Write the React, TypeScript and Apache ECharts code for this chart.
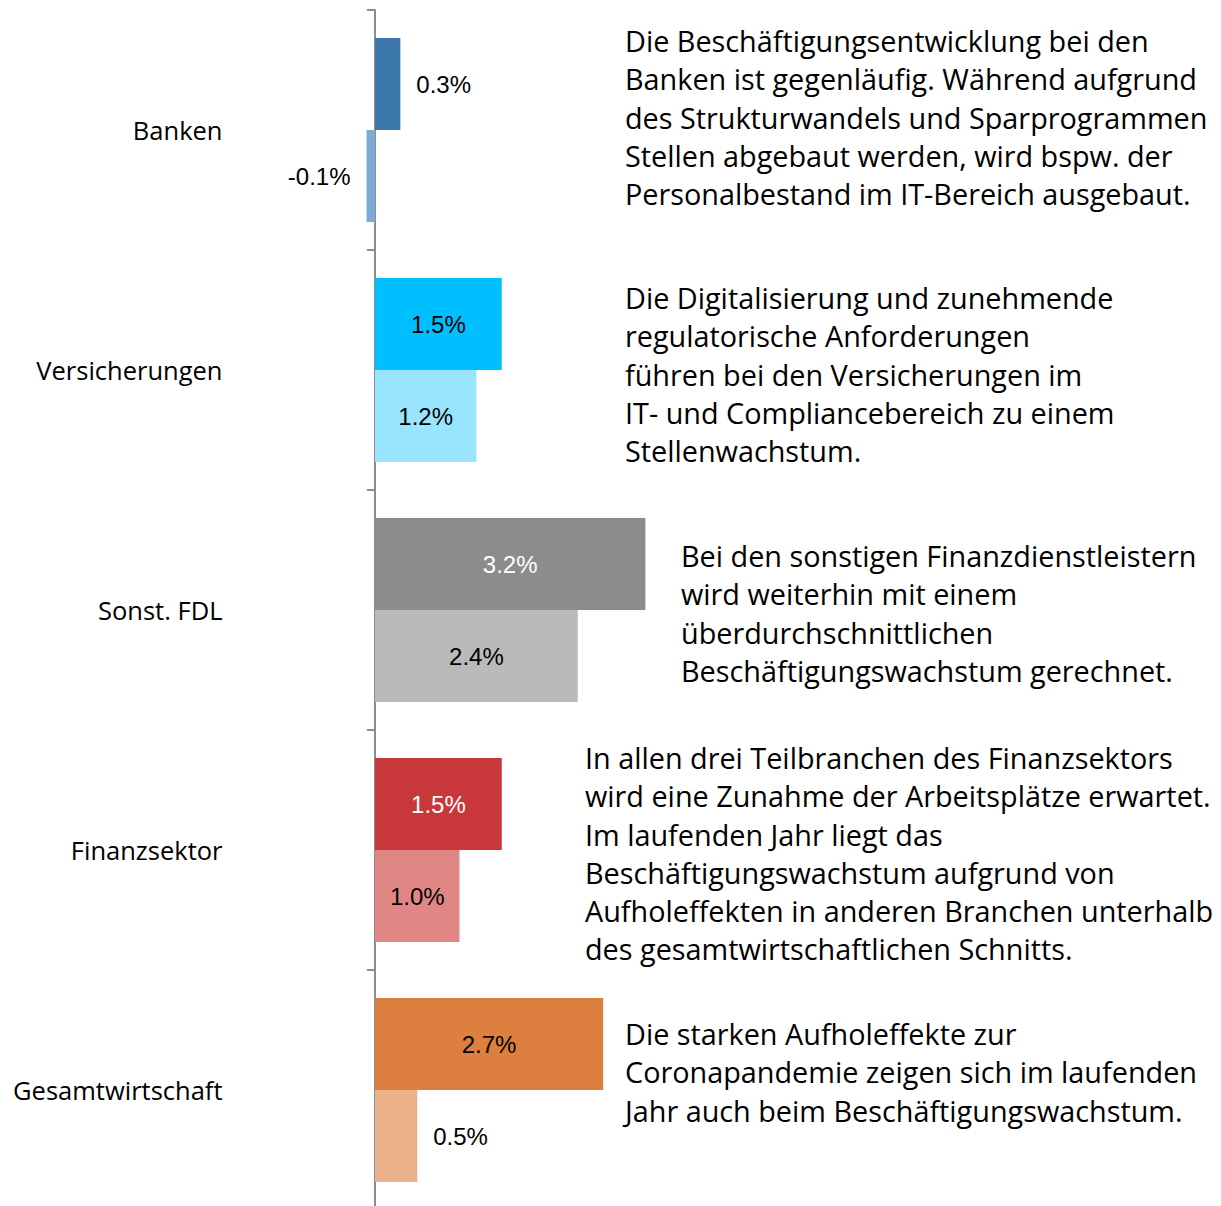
import React, { useEffect, useRef } from "react";
import * as echarts from "echarts";

const categories = ["Banken", "Versicherungen", "Sonst. FDL", "Finanzsektor", "Gesamtwirtschaft"];
const currentYear = [0.3, 1.5, 3.2, 1.5, 2.7];
const previousYear = [-0.1, 1.2, 2.4, 1.0, 0.5];
const darkColors = ["#3B76AB", "#00BFFF", "#8C8C8C", "#C8373A", "#DC7F3F"];
const lightColors = ["#7EAAD6", "#99E4FF", "#BABABA", "#E08786", "#EBB18B"];
const darkLabelColors = ["#000000", "#000000", "#FFFFFF", "#FFFFFF", "#000000"];
const lightLabelColors = ["#000000", "#000000", "#000000", "#000000", "#000000"];

const notes = [
  { x: 625, y: 42, lines: ["Die Beschäftigungsentwicklung bei den", "Banken ist gegenläufig. Während aufgrund", "des Strukturwandels und Sparprogrammen", "Stellen abgebaut werden, wird bspw. der", "Personalbestand im IT-Bereich ausgebaut."] },
  { x: 625, y: 299, lines: ["Die Digitalisierung und zunehmende", "regulatorische Anforderungen", "führen bei den Versicherungen im", "IT- und Compliancebereich zu einem", "Stellenwachstum."] },
  { x: 681, y: 557, lines: ["Bei den sonstigen Finanzdienstleistern", "wird weiterhin mit einem", "überdurchschnittlichen", "Beschäftigungswachstum gerechnet."] },
  { x: 585, y: 759, lines: ["In allen drei Teilbranchen des Finanzsektors", "wird eine Zunahme der Arbeitsplätze erwartet.", "Im laufenden Jahr liegt das", "Beschäftigungswachstum aufgrund von", "Aufholeffekten in anderen Branchen unterhalb", "des gesamtwirtschaftlichen Schnitts."] },
  { x: 625, y: 1035, lines: ["Die starken Aufholeffekte zur", "Coronapandemie zeigen sich im laufenden", "Jahr auch beim Beschäftigungswachstum."] },
];

const FONT = "'Liberation Sans', Arial, sans-serif";
const NOTE_FONT = "'Open Sans', 'Noto Sans', sans-serif";
const LINE_H = 38.3;

function labelFor(v: number, color: string) {
  const small = Math.abs(v) < 0.8;
  return {
    show: true,
    position: small ? (v < 0 ? "left" : "right") : "inside",
    distance: small ? 16 : 5,
    color: small ? "#000000" : color,
    fontSize: 24,
    fontFamily: FONT,
    formatter: (p: any) => p.value.toFixed(1) + "%",
  };
}

export default function App() {
  const ref = useRef<HTMLDivElement>(null);
  useEffect(() => {
    if (!ref.current) return;
    const chart = echarts.init(ref.current, null, { renderer: "svg" });
    const graphics: any[] = [];
    notes.forEach((n) => {
      graphics.push({
        type: "text",
        left: n.x,
        top: n.y - LINE_H / 2 - 1.5,
        style: {
          text: n.lines.join("\n"),
          font: `28.8px ${NOTE_FONT}`,
          fill: "#000000",
          lineHeight: LINE_H,
        },
      });
    });
    chart.setOption({
      animation: false,
      backgroundColor: "#ffffff",
      grid: { left: 290.5, top: 10, width: 845, height: 1200, containLabel: false, outerBoundsMode: "none" },
      xAxis: { type: "value", min: -1, max: 9, show: false, splitLine: { show: false } },
      yAxis: {
        type: "category",
        data: categories,
        inverse: true,
        axisLine: { onZero: true, lineStyle: { color: "#8C8C8C", width: 2 } },
        axisTick: { show: true, length: 8, lineStyle: { color: "#8C8C8C", width: 2 } },
        axisLabel: { margin: 68, fontSize: 25.5, color: "#000000", fontFamily: NOTE_FONT },
      },
      series: [
        {
          name: "Laufendes Jahr",
          type: "bar",
          barWidth: 92,
          barGap: "0%",
          data: currentYear.map((v, i) => ({ value: v, itemStyle: { color: darkColors[i] }, label: labelFor(v, darkLabelColors[i]) })),
        },
        {
          name: "Vorjahr",
          type: "bar",
          barWidth: 92,
          barGap: "0%",
          data: previousYear.map((v, i) => ({ value: v, itemStyle: { color: lightColors[i] }, label: labelFor(v, lightLabelColors[i]) })),
        },
      ],
      graphic: graphics,
    });
    return () => chart.dispose();
  }, []);
  return <div ref={ref} style={{ position: "fixed", left: 0, top: 0, width: 1221, height: 1206, background: "#fff" }} />;
}
